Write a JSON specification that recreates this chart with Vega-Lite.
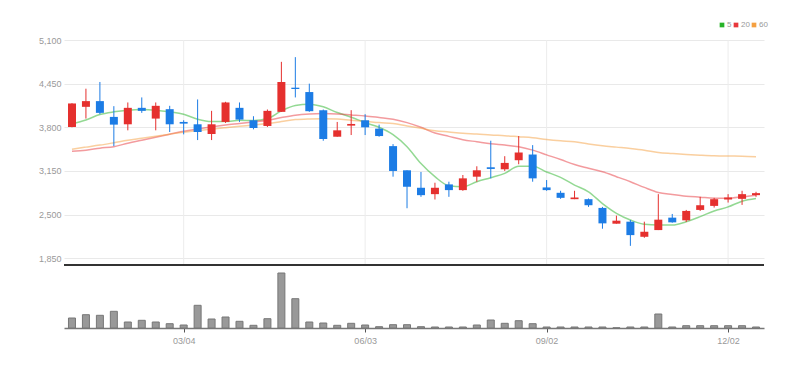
{
  "$schema": "https://vega.github.io/schema/vega-lite/v6.json",
  "width": 700,
  "height": 288,
  "autosize": {"type": "none"},
  "padding": {"left": 64, "top": 40, "right": 45, "bottom": 40},
  "background": "#ffffff",
  "config": {
    "view": {"stroke": null},
    "font": "Liberation Sans",
    "scale": {"continuousPadding": 0}
  },
  "data": {
    "values": [
      {"date": "2024-01-08T00:00:00", "open": 3805, "high": 4160, "low": 3800, "close": 4155, "volume": 100000, "ma5": 3850, "ma20": 3445, "ma60": 3475},
      {"date": "2024-01-15T00:00:00", "open": 4105, "high": 4375, "low": 3930, "close": 4190, "volume": 133000, "ma5": 3910, "ma20": 3460, "ma60": 3505},
      {"date": "2024-01-22T00:00:00", "open": 4190, "high": 4475, "low": 3995, "close": 4015, "volume": 127000, "ma5": 3990, "ma20": 3490, "ma60": 3535},
      {"date": "2024-01-29T00:00:00", "open": 3955, "high": 4115, "low": 3520, "close": 3840, "volume": 167000, "ma5": 4030, "ma20": 3512, "ma60": 3571},
      {"date": "2024-02-05T00:00:00", "open": 3845, "high": 4170, "low": 3755, "close": 4090, "volume": 60000, "ma5": 4055, "ma20": 3564, "ma60": 3609},
      {"date": "2024-02-12T00:00:00", "open": 4090, "high": 4245, "low": 4015, "close": 4045, "volume": 77000, "ma5": 4065, "ma20": 3609, "ma60": 3638},
      {"date": "2024-02-19T00:00:00", "open": 3930, "high": 4170, "low": 3755, "close": 4120, "volume": 60000, "ma5": 4055, "ma20": 3653, "ma60": 3668},
      {"date": "2024-02-26T00:00:00", "open": 4070, "high": 4120, "low": 3730, "close": 3845, "volume": 43000, "ma5": 4030, "ma20": 3698, "ma60": 3698},
      {"date": "2024-03-04T00:00:00", "open": 3880, "high": 3905, "low": 3695, "close": 3855, "volume": 30000, "ma5": 3995, "ma20": 3742, "ma60": 3727},
      {"date": "2024-03-11T00:00:00", "open": 3845, "high": 4215, "low": 3610, "close": 3730, "volume": 227000, "ma5": 3920, "ma20": 3775, "ma60": 3750},
      {"date": "2024-03-18T00:00:00", "open": 3700, "high": 4045, "low": 3610, "close": 3845, "volume": 90000, "ma5": 3885, "ma20": 3805, "ma60": 3772},
      {"date": "2024-03-25T00:00:00", "open": 3880, "high": 4180, "low": 3865, "close": 4170, "volume": 110000, "ma5": 3885, "ma20": 3835, "ma60": 3794},
      {"date": "2024-04-01T00:00:00", "open": 4090, "high": 4170, "low": 3880, "close": 3915, "volume": 67000, "ma5": 3905, "ma20": 3857, "ma60": 3816},
      {"date": "2024-04-08T00:00:00", "open": 3905, "high": 3965, "low": 3770, "close": 3790, "volume": 27000, "ma5": 3900, "ma20": 3880, "ma60": 3835},
      {"date": "2024-04-15T00:00:00", "open": 3820, "high": 4065, "low": 3805, "close": 4045, "volume": 93000, "ma5": 3930, "ma20": 3906, "ma60": 3857},
      {"date": "2024-04-22T00:00:00", "open": 4030, "high": 4775, "low": 4030, "close": 4475, "volume": 550000, "ma5": 4045, "ma20": 3945, "ma60": 3885},
      {"date": "2024-04-29T00:00:00", "open": 4390, "high": 4845, "low": 4245, "close": 4370, "volume": 293000, "ma5": 4125, "ma20": 3980, "ma60": 3915},
      {"date": "2024-05-06T00:00:00", "open": 4325, "high": 4450, "low": 4030, "close": 4040, "volume": 60000, "ma5": 4145, "ma20": 3998, "ma60": 3925},
      {"date": "2024-05-13T00:00:00", "open": 4055, "high": 4065, "low": 3600, "close": 3625, "volume": 50000, "ma5": 4105, "ma20": 4005, "ma60": 3928},
      {"date": "2024-05-20T00:00:00", "open": 3660, "high": 3880, "low": 3660, "close": 3755, "volume": 27000, "ma5": 4020, "ma20": 4000, "ma60": 3922},
      {"date": "2024-05-27T00:00:00", "open": 3825, "high": 4055, "low": 3685, "close": 3850, "volume": 47000, "ma5": 3950, "ma20": 3985, "ma60": 3905},
      {"date": "2024-06-03T00:00:00", "open": 3905, "high": 3995, "low": 3685, "close": 3800, "volume": 30000, "ma5": 3870, "ma20": 3970, "ma60": 3890},
      {"date": "2024-06-10T00:00:00", "open": 3780, "high": 3840, "low": 3660, "close": 3670, "volume": 13000, "ma5": 3800, "ma20": 3946, "ma60": 3870},
      {"date": "2024-06-17T00:00:00", "open": 3520, "high": 3550, "low": 3065, "close": 3150, "volume": 33000, "ma5": 3690, "ma20": 3920, "ma60": 3857},
      {"date": "2024-06-24T00:00:00", "open": 3160, "high": 3160, "low": 2595, "close": 2915, "volume": 33000, "ma5": 3510, "ma20": 3870, "ma60": 3820},
      {"date": "2024-07-01T00:00:00", "open": 2900, "high": 3135, "low": 2765, "close": 2790, "volume": 13000, "ma5": 3260, "ma20": 3800, "ma60": 3785},
      {"date": "2024-07-08T00:00:00", "open": 2805, "high": 2975, "low": 2725, "close": 2900, "volume": 10000, "ma5": 3065, "ma20": 3715, "ma60": 3750},
      {"date": "2024-07-15T00:00:00", "open": 2950, "high": 2990, "low": 2765, "close": 2865, "volume": 10000, "ma5": 2930, "ma20": 3665, "ma60": 3730},
      {"date": "2024-07-22T00:00:00", "open": 2865, "high": 3090, "low": 2855, "close": 3040, "volume": 10000, "ma5": 2915, "ma20": 3615, "ma60": 3710},
      {"date": "2024-07-29T00:00:00", "open": 3065, "high": 3220, "low": 2990, "close": 3160, "volume": 30000, "ma5": 2990, "ma20": 3585, "ma60": 3700},
      {"date": "2024-08-05T00:00:00", "open": 3205, "high": 3600, "low": 3040, "close": 3180, "volume": 80000, "ma5": 3050, "ma20": 3555, "ma60": 3685},
      {"date": "2024-08-12T00:00:00", "open": 3175, "high": 3370, "low": 3150, "close": 3270, "volume": 47000, "ma5": 3115, "ma20": 3535, "ma60": 3675},
      {"date": "2024-08-19T00:00:00", "open": 3310, "high": 3670, "low": 3250, "close": 3425, "volume": 73000, "ma5": 3220, "ma20": 3510, "ma60": 3660},
      {"date": "2024-08-26T00:00:00", "open": 3395, "high": 3535, "low": 2990, "close": 3040, "volume": 43000, "ma5": 3220, "ma20": 3460, "ma60": 3645},
      {"date": "2024-09-02T00:00:00", "open": 2905, "high": 3015, "low": 2855, "close": 2865, "volume": 10000, "ma5": 3135, "ma20": 3390, "ma60": 3620},
      {"date": "2024-09-09T00:00:00", "open": 2825, "high": 2855, "low": 2735, "close": 2750, "volume": 10000, "ma5": 3055, "ma20": 3320, "ma60": 3600},
      {"date": "2024-09-16T00:00:00", "open": 2730, "high": 2855, "low": 2730, "close": 2755, "volume": 10000, "ma5": 2940, "ma20": 3245, "ma60": 3584},
      {"date": "2024-09-23T00:00:00", "open": 2730, "high": 2740, "low": 2615, "close": 2640, "volume": 10000, "ma5": 2840, "ma20": 3190, "ma60": 3552},
      {"date": "2024-09-30T00:00:00", "open": 2600, "high": 2615, "low": 2290, "close": 2370, "volume": 10000, "ma5": 2665, "ma20": 3137, "ma60": 3525},
      {"date": "2024-10-07T00:00:00", "open": 2365, "high": 2485, "low": 2365, "close": 2410, "volume": 2000, "ma5": 2520, "ma20": 3065, "ma60": 3505},
      {"date": "2024-10-14T00:00:00", "open": 2395, "high": 2420, "low": 2035, "close": 2195, "volume": 10000, "ma5": 2420, "ma20": 2990, "ma60": 3485},
      {"date": "2024-10-21T00:00:00", "open": 2170, "high": 2395, "low": 2155, "close": 2245, "volume": 10000, "ma5": 2355, "ma20": 2905, "ma60": 3460},
      {"date": "2024-10-28T00:00:00", "open": 2270, "high": 2805, "low": 2270, "close": 2425, "volume": 140000, "ma5": 2345, "ma20": 2830, "ma60": 3426},
      {"date": "2024-11-04T00:00:00", "open": 2455, "high": 2510, "low": 2380, "close": 2385, "volume": 10000, "ma5": 2345, "ma20": 2800, "ma60": 3410},
      {"date": "2024-11-11T00:00:00", "open": 2415, "high": 2570, "low": 2390, "close": 2555, "volume": 23000, "ma5": 2395, "ma20": 2775, "ma60": 3396},
      {"date": "2024-11-18T00:00:00", "open": 2570, "high": 2765, "low": 2555, "close": 2640, "volume": 23000, "ma5": 2470, "ma20": 2760, "ma60": 3385},
      {"date": "2024-11-25T00:00:00", "open": 2630, "high": 2750, "low": 2605, "close": 2730, "volume": 23000, "ma5": 2555, "ma20": 2745, "ma60": 3376},
      {"date": "2024-12-02T00:00:00", "open": 2725, "high": 2805, "low": 2680, "close": 2755, "volume": 23000, "ma5": 2615, "ma20": 2745, "ma60": 3372},
      {"date": "2024-12-09T00:00:00", "open": 2735, "high": 2855, "low": 2645, "close": 2805, "volume": 23000, "ma5": 2700, "ma20": 2765, "ma60": 3370},
      {"date": "2024-12-16T00:00:00", "open": 2790, "high": 2840, "low": 2765, "close": 2820, "volume": 10000, "ma5": 2740, "ma20": 2790, "ma60": 3362}
    ]
  },
  "layer": [
    {
      "layer": [
        {
          "data": {"values": [{"date": "2024-03-04T00:00:00"}, {"date": "2024-06-03T00:00:00"}, {"date": "2024-09-02T00:00:00"}, {"date": "2024-12-02T00:00:00"}]},
          "mark": {"type": "rule", "color": "#ececec", "strokeWidth": 1},
          "encoding": {
            "x": {"field": "date", "type": "temporal", "scale": {"domain": [{"year": 2024, "month": 1, "date": 4}, {"year": 2024, "month": 12, "date": 20}], "padding": 0}},
            "y": {"datum": 1750, "type": "quantitative", "scale": {"domain": [812, 5100], "zero": false, "nice": false}, "axis": {"values": [1850, 2500, 3150, 3800, 4450, 5100], "format": ",d", "title": null, "grid": true, "gridColor": "#e9e9e9", "domain": false, "ticks": false, "labelPadding": 3, "labelFontSize": 9, "labelColor": "#999999"}},
            "y2": {"datum": 5100}
          }
        },
        {
          "data": {"values": [{"level": 1750}]},
          "mark": {"type": "rule", "color": "#333333", "strokeWidth": 2},
          "encoding": {
            "y": {"field": "level", "type": "quantitative"}
          }
        },
        {
          "transform": [{"fold": ["ma5", "ma20", "ma60"], "as": ["ma", "value"]}],
          "mark": {"type": "line", "strokeWidth": 1.5, "strokeOpacity": 0.5, "interpolate": "monotone"},
          "encoding": {
            "x": {"field": "date", "type": "temporal"},
            "y": {"field": "value", "type": "quantitative"},
            "color": {
              "field": "ma", "type": "nominal",
              "scale": {"domain": ["ma5", "ma20", "ma60"], "range": ["#27b327", "#e8383d", "#f5a040"]},
              "legend": {
                "title": null, "orient": "none", "legendX": 654, "legendY": -19, "direction": "horizontal",
                "symbolType": "square", "symbolSize": 22, "symbolStrokeWidth": 0, "labelFontSize": 8, "labelColor": "#999999",
                "columnPadding": 0, "labelOffset": 1, "padding": 0,
                "labelExpr": "replace(datum.label, 'ma', '')",
                "encode": {"symbols": {"update": {"fill": {"scale": "color", "field": "value"}, "fillOpacity": {"value": 1}, "strokeOpacity": {"value": 0}}}}
              }
            },
            "order": {"field": "date", "type": "temporal"}
          }
        },
        {
          "mark": {"type": "rule", "strokeWidth": 1},
          "encoding": {
            "x": {"field": "date", "type": "temporal"},
            "y": {"field": "low", "type": "quantitative"},
            "y2": {"field": "high"},
            "color": {"condition": {"test": "datum.close >= datum.open", "value": "#e5302e"}, "value": "#1c7ce5"}
          }
        },
        {
          "mark": {"type": "bar", "size": 8},
          "encoding": {
            "x": {"field": "date", "type": "temporal"},
            "y": {"field": "open", "type": "quantitative"},
            "y2": {"field": "close"},
            "color": {"condition": {"test": "datum.close >= datum.open", "value": "#e5302e"}, "value": "#1c7ce5"}
          }
        }
      ]
    },
    {
      "mark": {"type": "bar", "size": 7, "color": "#999999", "stroke": "#777777", "strokeWidth": 1},
      "encoding": {
        "x": {"field": "date", "type": "temporal", "axis": {"values": [{"year": 2024, "month": 3, "date": 4}, {"year": 2024, "month": 6, "date": 3}, {"year": 2024, "month": 9, "date": 2}, {"year": 2024, "month": 12, "date": 2}], "format": "%m/%d", "title": null, "grid": false, "domainColor": "#777777", "domainWidth": 1.5, "tickColor": "#555555", "tickSize": 4, "labelPadding": 4, "labelFontSize": 9, "labelColor": "#999999"}},
        "y": {"field": "volume", "type": "quantitative", "scale": {"domain": [0, 2880000], "nice": false}, "axis": null}
      }
    }
  ],
  "resolve": {"scale": {"y": "independent"}}
}
